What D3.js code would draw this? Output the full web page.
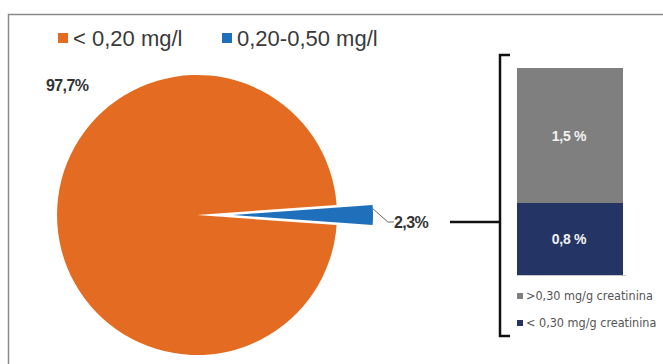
<!DOCTYPE html>
<html>
<head>
<meta charset="utf-8">
<script src="https://cdn.jsdelivr.net/npm/d3@7"></script>
<style>
  body { margin: 0; background: #fff; }
  svg { display: block; font-family: "Liberation Sans", Arial, sans-serif; }
</style>
</head>
<body>
<svg id="chart" width="663" height="364"></svg>
<script>
"use strict";

// Pie: concentration classes
const pieLabels = ["< 0,20 mg/l", "0,20-0,50 mg/l"];
const pieValues = [97.7, 2.3];
const pieText = ["97,7%", "2,3%"];
const pieColors = ["#e46c22", "#1f6fba"];

// Stacked bar: breakdown of the 2,3% slice (bottom first)
const barLabels = ["< 0,30 mg/g creatinina", ">0,30 mg/g creatinina"];
const barValues = [0.8, 1.5];
const barText = ["0,8 %", "1,5 %"];
const barColors = ["#243565", "#7f7f80"];

const svg = d3.select("#chart");

// outer frame (top and left edges visible)
svg.append("path")
    .attr("d", "M8.5,364 L8.5,14.5 L663,14.5")
    .attr("fill", "none")
    .attr("stroke", "#8a8a8a")
    .attr("stroke-width", 1.5);

// legend on top
const legend = svg.append("g").attr("transform", "translate(58,33)");
const legendX = [0, 164];
pieLabels.forEach((d, i) => {
    const g = legend.append("g").attr("transform", `translate(${legendX[i]},0)`);
    g.append("rect").attr("width", 10).attr("height", 10).attr("fill", pieColors[i]);
    g.append("text")
        .attr("x", 15).attr("y", 12.5)
        .attr("font-size", 22)
        .attr("fill", "#3a3a3a")
        .text(d);
});

// pie
const cx = 197, cy = 215, radius = 140, explode = 36;
const half = Math.PI * pieValues[1] / pieValues.reduce((a, b) => a + b, 0);
const pie = d3.pie().sort(null)
    .startAngle(Math.PI / 2 + half)
    .endAngle(Math.PI / 2 + half + 2 * Math.PI);
const arc = d3.arc().innerRadius(0).outerRadius(radius);
const slices = pie(pieValues);

const pieG = svg.append("g").attr("transform", `translate(${cx},${cy})`);
pieG.selectAll("path")
    .data(slices)
    .join("path")
    .attr("d", arc)
    .attr("fill", (d, i) => pieColors[i])
    .attr("transform", (d, i) => {
        if (i === 0) return null;
        const mid = (d.startAngle + d.endAngle) / 2;
        return `translate(${explode * Math.sin(mid)},${-explode * Math.cos(mid)})`;
    });

// label for the big slice
svg.append("text")
    .attr("x", 46).attr("y", 91)
    .attr("font-size", 16).attr("font-weight", "bold")
    .attr("fill", "#333")
    .attr("letter-spacing", -0.6)
    .text(pieText[0]);

// leader line + label for the small slice
const blue = slices[1];
const a0 = (blue.startAngle + blue.endAngle) / 2 - 0.045;
const px = explode + radius * Math.sin(a0), py = -radius * Math.cos(a0);
pieG.append("polyline")
    .attr("points", `${px},${py} ${px + 15},${7} ${px + 21},${7}`)
    .attr("fill", "none")
    .attr("stroke", "#6b6b6b")
    .attr("stroke-width", 1);
svg.append("text")
    .attr("x", 394).attr("y", 228)
    .attr("font-size", 16).attr("font-weight", "bold")
    .attr("fill", "#333")
    .attr("letter-spacing", -0.6)
    .text(pieText[1]);

// connector and bracket
svg.append("path")
    .attr("d", "M450,222 L500,222 M510,55 L500,55 L500,336 L510,336")
    .attr("fill", "none")
    .attr("stroke", "#111")
    .attr("stroke-width", 2.5);

// stacked bar
const y = d3.scaleLinear()
    .domain([0, d3.sum(barValues)])
    .range([275, 68]);
const stacked = d3.cumsum(barValues);
const barX = 517, barW = 106;

svg.selectAll("rect.bar")
    .data(barValues)
    .join("rect")
    .attr("class", "bar")
    .attr("x", barX)
    .attr("width", barW)
    .attr("y", (d, i) => y(stacked[i]))
    .attr("height", (d, i) => y(stacked[i] - d) - y(stacked[i]))
    .attr("fill", (d, i) => barColors[i]);

svg.append("line")
    .attr("x1", barX).attr("x2", barX + barW + 3)
    .attr("y1", 275.5).attr("y2", 275.5)
    .attr("stroke", "#c8c8c8");

svg.selectAll("text.barlab")
    .data(barValues)
    .join("text")
    .attr("class", "barlab")
    .attr("x", barX + barW / 2 - 1)
    .attr("y", (d, i) => y(stacked[i] - d / 2) + 5)
    .attr("text-anchor", "middle")
    .attr("font-size", 14).attr("font-weight", "bold")
    .attr("fill", "#f2f2f2")
    .attr("letter-spacing", -0.3)
    .text((d, i) => barText[i]);

// bar legend (top series first)
const barLegendY = [296, 323];
[1, 0].forEach((k, j) => {
    svg.append("rect")
        .attr("x", 517).attr("y", barLegendY[j] - 3)
        .attr("width", 6).attr("height", 6)
        .attr("fill", barColors[k]);
    svg.append("text")
        .attr("x", 526).attr("y", barLegendY[j] + 4)
        .attr("font-family", "'Liberation Sans Narrow', 'DejaVu Sans Condensed', sans-serif")
        .attr("font-size", 12.5)
        .attr("fill", "#555")
        .text(barLabels[k]);
});
</script>
</body>
</html>
